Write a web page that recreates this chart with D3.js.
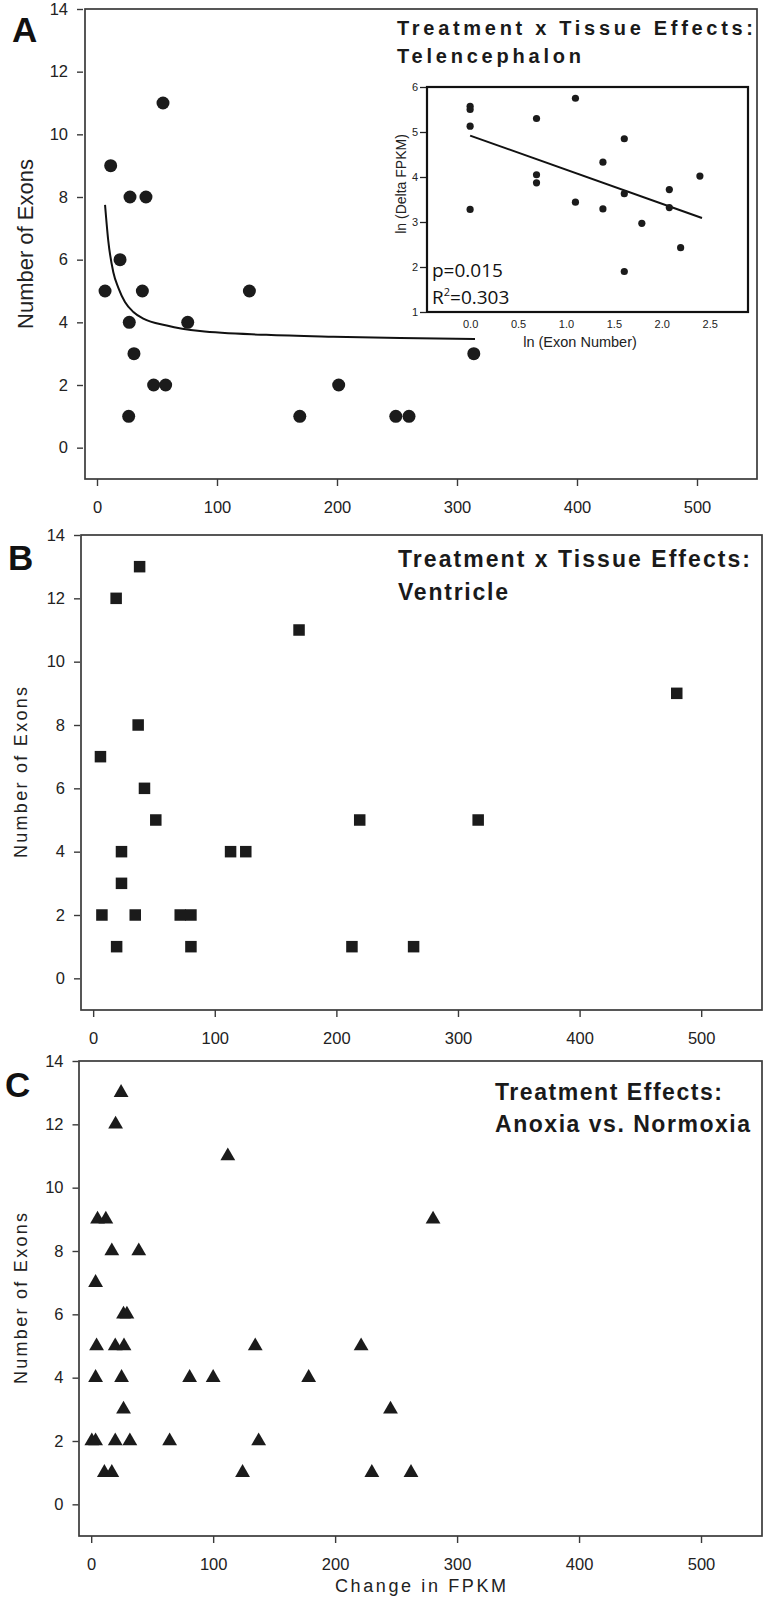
<!DOCTYPE html>
<html><head><meta charset="utf-8">
<script src="https://cdn.jsdelivr.net/npm/d3@7"></script>
<style>
body{margin:0;background:#fff;}
svg{display:block;font-family:"Liberation Sans",Arial,sans-serif;}
</style></head>
<body>
<script>
// ---------- DATA ----------
const yTicks = [0,2,4,6,8,10,12,14];
const xTicks = [0,100,200,300,400,500];
const insetYTicks = [1,2,3,4,5,6];
const insetXTicks = [0,0.5,1.0,1.5,2.0,2.5];

// Panel A: Telencephalon
const aFPKM  = [6.7,11.4,19.2,26.4,26.9,27.5,30.8,37.8,40.8,47.2,55,57.2,75.6,127,169,201.4,249,260,314];
const aExons = [5,9,6,1,4,8,3,5,8,2,11,2,4,5,1,2,1,1,3];
// fitted curve in A (read samples)
const fitX = [6.7,9.4,13.6,17.8,23.3,30.3,38.6,58.1,85.8,141,197,252.5,315];
const fitY = [7.75,6.6,5.6,5.1,4.65,4.33,4.12,3.9,3.72,3.6,3.54,3.5,3.47];
// inset: ln(Exon Number) vs ln(Delta FPKM)
const insetX = [0,0,0,0,0.693,0.693,0.693,1.099,1.099,1.386,1.386,1.609,1.609,1.609,1.792,2.079,2.079,2.197,2.398];
const insetY = [5.57,5.50,5.13,3.28,5.30,4.05,3.87,5.75,3.44,4.33,3.29,4.85,3.63,1.90,2.97,3.72,3.32,2.43,4.02];
const regX = [0,2.42];
const regY = [4.92,3.09];

// Panel B: Ventricle
const bFPKM  = [38.2,18.9,169.3,479.9,37,6,42.2,51.5,219.2,316.6,23.3,113,125.5,23.3,7.2,34.6,71.6,80.4,19.3,80.4,212.8,263.5];
const bExons = [13,12,11,9,8,7,6,5,5,5,4,4,4,3,2,2,2,2,1,1,1,1];

// Panel C: Anoxia vs Normoxia
const cFPKM  = [24.5,20,112,5.2,12,280.3,16.9,39,3.6,26.5,29.3,4.4,19.7,26.9,134.5,221.3,3.6,24.9,80.7,100,178.3,26.5,245.4,0.5,3.6,19.7,31.7,64.3,137.3,10.8,16.9,124.1,230.1,262.2];
const cExons = [13,12,11,9,9,9,8,8,7,6,6,5,5,5,5,5,4,4,4,4,4,3,3,2,2,2,2,2,2,1,1,1,1,1];

// ---------- DRAW ----------
const W=766,H=1605;
const svg=d3.select("body").append("svg").attr("width",W).attr("height",H);
const INK="#1b1b1b", LINE="#3a3a3a", TXT="#222";
const NARROW='"Liberation Sans Narrow","Arial Narrow","Liberation Sans",sans-serif';

const panels=[
  {id:"A",left:85,right:757,top:9,bottom:479,gap:2,pad:9,xpad:15,fs:16.5,
   letter:{x:12,y:42},title:["Treatment x Tissue Effects:","Telencephalon"],
   tx:397,ty:[35,63],tw:[356,184],tfs:20,narrow:false,
   ylab:{x:33,fs:22,len:null}},
  {id:"B",left:81,right:762,top:535,bottom:1010,gap:1,pad:9,xpad:15.5,fs:16.5,
   letter:{x:8,y:570},title:["Treatment x Tissue Effects:","Ventricle"],
   tx:398,ty:[567,600],tw:[352,110],tfs:23,narrow:true,
   ylab:{x:27,fs:18,len:171}},
  {id:"C",left:79,right:762,top:1061,bottom:1536,gap:0.5,pad:9,xpad:15,fs:16.5,
   letter:{x:5,y:1097},title:["Treatment Effects:","Anoxia vs. Normoxia"],
   tx:495,ty:[1100,1132],tw:[227,255],tfs:23,narrow:true,
   ylab:{x:27,fs:18,len:171}}
];

function setup(p){
  p.x=d3.scaleLinear().domain([-10,550]).range([p.left,p.right]);
  p.y=d3.scaleLinear().domain([-1,14]).range([p.bottom,p.top]);
  const g=svg.append("g");
  p.g=g;
  g.append("rect").attr("x",p.left).attr("y",p.top)
   .attr("width",p.right-p.left).attr("height",p.bottom-p.top)
   .attr("fill","none").attr("stroke",LINE).attr("stroke-width",1.7);
  const ya=g.append("g").attr("transform",`translate(${p.left-p.gap},0)`)
   .call(d3.axisLeft(p.y).tickValues(yTicks).tickSize(6).tickPadding(p.pad).tickFormat(d3.format("d")));
  const xa=g.append("g").attr("transform",`translate(0,${p.bottom})`)
   .call(d3.axisBottom(p.x).tickValues(xTicks).tickSize(7).tickPadding(p.xpad).tickFormat(d3.format("d")));
  [ya,xa].forEach(a=>{
    a.select(".domain").remove();
    a.selectAll("line").attr("stroke",LINE).attr("stroke-width",1.4);
    a.selectAll("text").attr("fill",TXT).style("font-size",p.fs+"px")
      .style("font-family",p.narrow?NARROW:'"Liberation Sans",Arial,sans-serif');
  });
  // panel letter
  g.append("text").attr("x",p.letter.x).attr("y",p.letter.y).text(p.id)
   .attr("fill","#111").style("font-size","35px").style("font-weight","bold");
  // title
  p.title.forEach((t,i)=>{
    g.append("text").attr("x",p.tx).attr("y",p.ty[i]).text(t)
     .attr("textLength",p.tw[i]).attr("lengthAdjust","spacing")
     .attr("fill","#1a1a1a").style("font-size",p.tfs+"px").style("font-weight","bold")
     .style("font-family",p.narrow?NARROW:'"Liberation Sans",Arial,sans-serif');
  });
  // y label
  const cy=(p.top+p.bottom)/2;
  const yl=g.append("text").attr("transform",`translate(${p.ylab.x},${cy}) rotate(-90)`)
   .attr("text-anchor","middle").text("Number of Exons").attr("fill",TXT)
   .style("font-size",p.ylab.fs+"px");
  if(p.ylab.len) yl.attr("textLength",p.ylab.len).attr("lengthAdjust","spacing");
}
panels.forEach(setup);

// Panel A marks
const pA=panels[0];
pA.g.append("path").datum(d3.zip(fitX,fitY))
  .attr("d",d3.line().x(d=>pA.x(d[0])).y(d=>pA.y(d[1])).curve(d3.curveMonotoneX))
  .attr("fill","none").attr("stroke","#111").attr("stroke-width",2);
pA.g.selectAll("circle.pt").data(d3.zip(aFPKM,aExons)).join("circle")
  .attr("class","pt").attr("cx",d=>pA.x(d[0])).attr("cy",d=>pA.y(d[1])).attr("r",6.5).attr("fill",INK);

// Inset
const ix=d3.scaleLinear().domain([-0.45,2.9]).range([427,748]);
const iy=d3.scaleLinear().domain([1,6]).range([312,87]);
const ig=svg.append("g");
ig.append("rect").attr("x",427).attr("y",87).attr("width",321).attr("height",225)
  .attr("fill","#fff").attr("stroke","#111").attr("stroke-width",2.2);
const iya=ig.append("g").attr("transform","translate(426,0)")
  .call(d3.axisLeft(iy).tickValues(insetYTicks).tickSize(6).tickPadding(2).tickFormat(d3.format("d")));
const ixa=ig.append("g").attr("transform","translate(0,312)")
  .call(d3.axisBottom(ix).tickValues(insetXTicks).tickSize(0).tickPadding(8).tickFormat(d3.format(".1f")));
[iya,ixa].forEach(a=>{a.select(".domain").remove();
  a.selectAll("line").attr("stroke","#222").attr("stroke-width",1.3);
  a.selectAll("text").attr("fill",TXT).style("font-size","11px");});
ig.append("path").datum(d3.zip(regX,regY))
  .attr("d",d3.line().x(d=>ix(d[0])).y(d=>iy(d[1])))
  .attr("stroke","#111").attr("stroke-width",2).attr("fill","none");
ig.selectAll("circle").data(d3.zip(insetX,insetY)).join("circle")
  .attr("cx",d=>ix(d[0])).attr("cy",d=>iy(d[1])).attr("r",3.6).attr("fill",INK);
ig.append("text").attr("transform","translate(406,184) rotate(-90)").attr("text-anchor","middle")
  .text("ln (Delta FPKM)").attr("fill",TXT).style("font-size","14px");
ig.append("text").attr("x",580).attr("y",347).attr("text-anchor","middle")
  .text("ln (Exon Number)").attr("fill",TXT).style("font-size","14.5px");
const statFont='"Open Sans","Noto Sans",sans-serif';
ig.append("text").attr("x",432).attr("y",277).text("p=0.015").attr("fill","#111")
  .style("font-size","19px").style("font-family",statFont);
const r2=ig.append("text").attr("x",432).attr("y",304).attr("fill","#111")
  .style("font-size","19px").style("font-family",statFont);
r2.append("tspan").text("R");
r2.append("tspan").text("2").attr("dy",-8).style("font-size","11px");
r2.append("tspan").text("=0.303").attr("dy",8);

// Panel B marks
const pB=panels[1];
const sq=11.5;
pB.g.selectAll("rect.pt").data(d3.zip(bFPKM,bExons)).join("rect")
  .attr("class","pt").attr("x",d=>pB.x(d[0])-sq/2).attr("y",d=>pB.y(d[1])-sq/2)
  .attr("width",sq).attr("height",sq).attr("fill",INK);

// Panel C marks
const pC=panels[2];
const tri=d3.symbol().type(d3.symbolTriangle).size(95);
pC.g.selectAll("path.pt").data(d3.zip(cFPKM,cExons)).join("path")
  .attr("class","pt").attr("d",tri)
  .attr("transform",d=>`translate(${pC.x(d[0])},${pC.y(d[1])})`).attr("fill",INK);
pC.g.append("text").attr("x",(pC.left+pC.right)/2).attr("y",1592).attr("text-anchor","middle")
  .text("Change in FPKM").attr("fill",TXT).style("font-size","18px")
  .attr("textLength",171).attr("lengthAdjust","spacing");
</script>
</body></html>
